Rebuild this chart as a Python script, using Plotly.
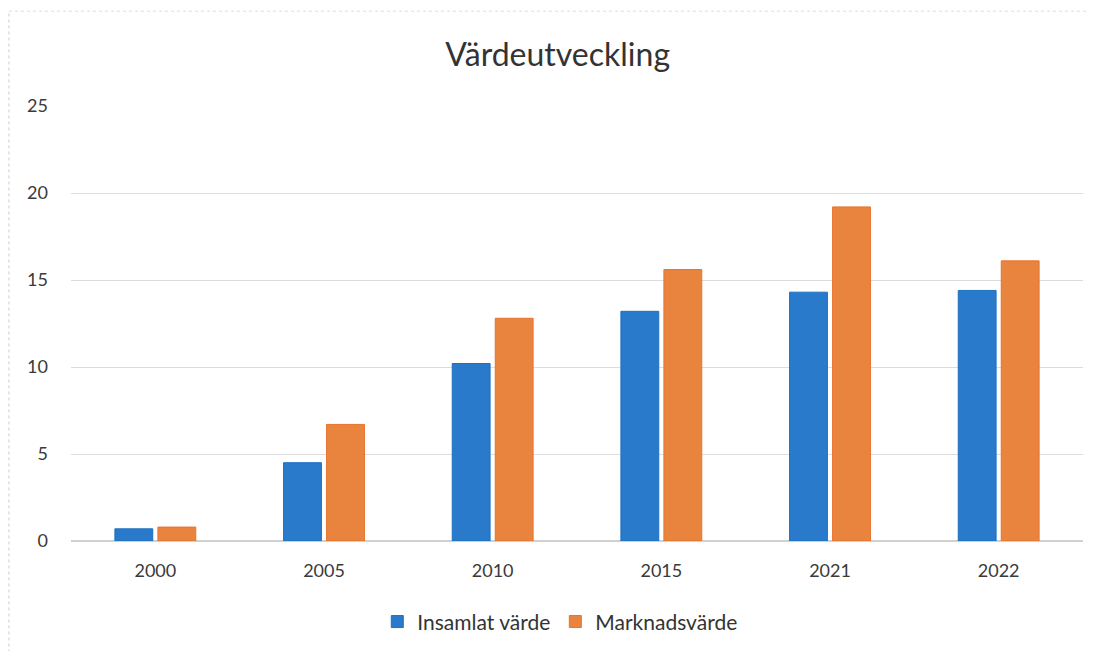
import plotly.graph_objects as go

# data
years = ["2000", "2005", "2010", "2015", "2021", "2022"]
insamlat = [0.7, 4.5, 10.2, 13.2, 14.3, 14.4]
marknad = [0.8, 6.7, 12.8, 15.6, 19.2, 16.1]

blue = "#2a7acb"
orange = "#e9843f"

fig = go.Figure()
fig.add_trace(go.Bar(x=years, y=insamlat, name="Insamlat värde",
                     marker=dict(color=blue, line=dict(color="#1f6fc0", width=1))))
fig.add_trace(go.Bar(x=years, y=marknad, name="Marknadsvärde",
                     marker=dict(color=orange, line=dict(color="#e8722a", width=1))))

fig.update_layout(
    width=1097, height=651,
    margin=dict(l=63, r=22, t=98, b=118),
    paper_bgcolor="white", plot_bgcolor="white",
    font=dict(family="Lato, Open Sans, sans-serif", color="#3a3a3a", size=18),
    title=dict(text="Värdeutveckling", x=0.501, xanchor="center", y=0.928, yanchor="middle",
               font=dict(size=32, color="#333333")),
    barmode="group", bargap=0.49, bargroupgap=0.12,
    legend=dict(orientation="h", x=0.483, xanchor="center", y=-0.186, yanchor="middle",
                font=dict(size=21, color="#333333"), itemwidth=30),
    showlegend=True,
)
fig.update_yaxes(range=[0, 25], dtick=5, showgrid=True, gridcolor="#dcdcdc", gridwidth=1,
                 zeroline=True, zerolinecolor="#d0d0d0", showline=False, ticks="", ticklabelstandoff=22)
fig.update_xaxes(showgrid=False, showline=False, ticks="", ticklabelstandoff=17)

# chart border (scan edge)
fig.add_shape(type="line", xref="paper", yref="paper", x0=-0.0613, x1=-0.0613, y0=-0.27, y1=1.218,
              line=dict(color="#cccccc", width=1, dash="dot"))
fig.add_shape(type="line", xref="paper", yref="paper", x0=-0.0613, x1=1.03, y0=1.218, y1=1.218,
              line=dict(color="#dddddd", width=1, dash="dot"))

fig.write_html("out.html")
